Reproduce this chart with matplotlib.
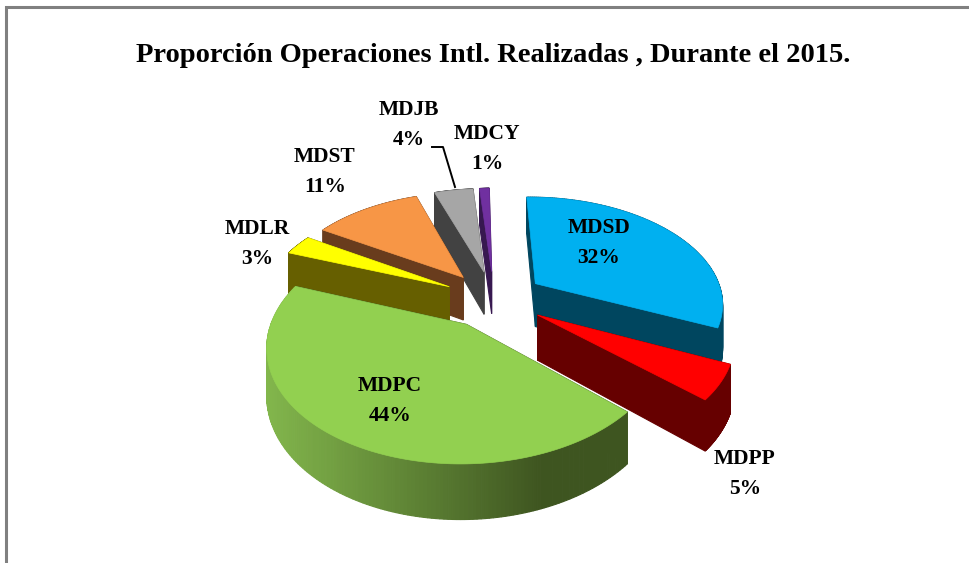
import numpy as np
import matplotlib
matplotlib.use('Agg')
import matplotlib.pyplot as plt

names = ['MDSD', 'MDPP', 'MDPC', 'MDLR', 'MDST', 'MDJB', 'MDCY']
values = [32, 5, 44, 3, 11, 4, 1]
top_colors = ['#00b0f0', '#ff0000', '#92d050', '#ffff00', '#f79646', '#a6a6a6', '#7030a0']
wall_colors = ['#00465f', '#660000', '#3e5520', '#665f00', '#693c1d', '#424242', '#371850']
title = 'Proporción Operaciones Intl. Realizadas , Durante el 2015.'
label_pos = [(599, 243), (745, 474), (390, 401), (257, 244), (325, 172), (409, 125), (487, 149)]

start_angle = 91
explode = 0.27
cx, cy = 494, 299
rx, ry = 188, 106
persp = 0.17
depth = 44
draw_order = [6, 5, 0, 4, 3, 1, 2]


def project(x, y, z=0.0):
    s = 1 / (1 + persp * np.asarray(y))
    return cx + rx * np.asarray(x) * s, cy - ry * np.asarray(y) * s + depth * z * s


def fill_quad(ax, x0, y0, x1, y1, color):
    xt0, yt0 = project(x0, y0)
    xt1, yt1 = project(x1, y1)
    xb1, yb1 = project(x1, y1, 1)
    xb0, yb0 = project(x0, y0, 1)
    ax.fill([xt0, xt1, xb1, xb0], [yt0, yt1, yb1, yb0], color=color, lw=0.8)


def green_wall(xpos):
    t = np.clip((xpos - 268) / (540 - 268), 0, 1)
    c0 = np.array([0x82, 0xb6, 0x4c]) / 255
    c1 = np.array(matplotlib.colors.to_rgb(wall_colors[2]))
    return tuple(c0 + (c1 - c0) * t)


def draw_slice(ax, i, a0, a1):
    mid = np.radians((a0 + a1) / 2)
    ox, oy = explode * np.cos(mid), explode * np.sin(mid)
    th = np.radians(np.linspace(a0, a1, 160))
    px = ox + np.cos(th)
    py = oy + np.sin(th)

    # radial walls first, the top covers the hidden ones
    fill_quad(ax, ox, oy, px[0], py[0], wall_colors[i])
    fill_quad(ax, ox, oy, px[-1], py[-1], wall_colors[i])
    for j in range(len(th) - 1):
        color = wall_colors[i]
        if names[i] == 'MDPC':
            color = green_wall(project(px[j], py[j])[0])
        fill_quad(ax, px[j], py[j], px[j + 1], py[j + 1], color)

    tx, ty = project(np.r_[ox, px], np.r_[oy, py])
    ax.fill(tx, ty, color=top_colors[i], lw=0.5)


fig = plt.figure(figsize=(9.69, 5.63), dpi=100)
ax = fig.add_axes([0, 0, 1, 1])
ax.set_xlim(0, 969)
ax.set_ylim(563, 0)
ax.axis('off')

ax.plot([6, 6, 969], [563, 7, 7], color='#808080', lw=2.2, solid_joinstyle='miter')

edges = start_angle - np.cumsum([0] + values) * 3.6
for i in draw_order:
    draw_slice(ax, i, edges[i + 1], edges[i])

ax.plot([432, 443, 455], [147, 147, 187], color='black', lw=1.4)

font = {'family': 'Liberation Serif', 'weight': 'bold'}
ax.text(493, 55, title, ha='center', va='center', fontsize=20.5, **font)
for name, val, (lx, ly) in zip(names, values, label_pos):
    ax.text(lx, ly, f'{name}\n{val}%', ha='center', va='center', fontsize=15.5,
            linespacing=1.65, **font)

fig.savefig('out.png', dpi=100)
